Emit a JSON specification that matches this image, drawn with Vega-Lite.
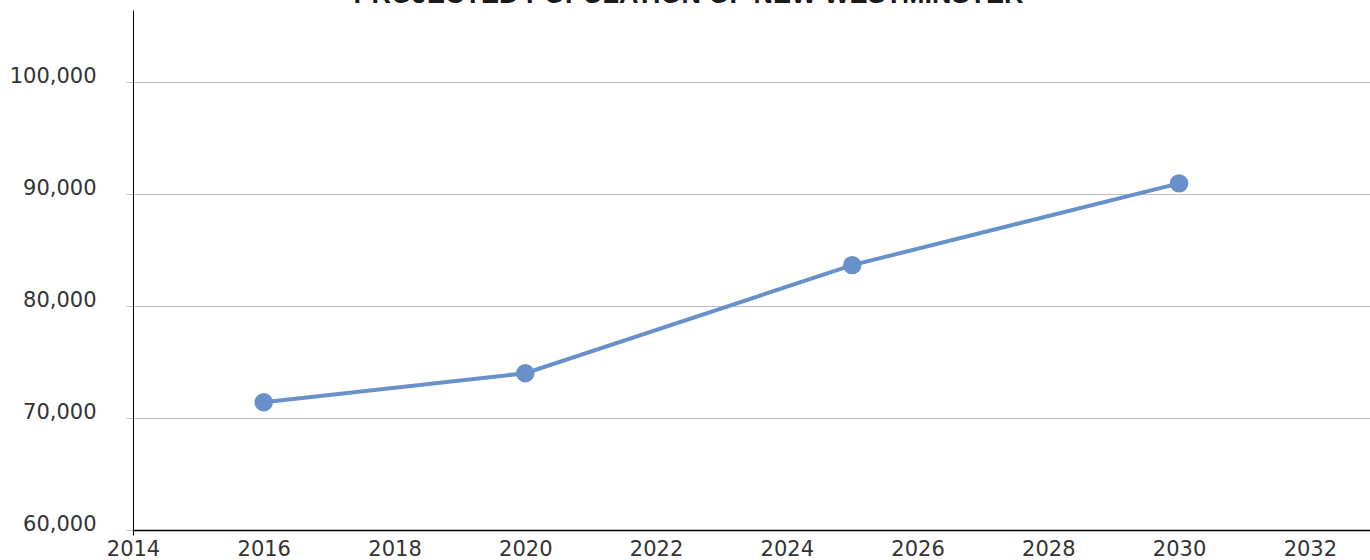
{
  "$schema": "https://vega.github.io/schema/vega-lite/v6.json",
  "autosize": {"type": "none"},
  "padding": {"left": 133, "top": 10, "right": 0, "bottom": 30},
  "width": 1237,
  "height": 520,
  "background": "white",
  "title": {
    "text": "PROJECTED POPULATION OF NEW WESTMINSTER",
    "font": "Liberation Sans",
    "fontSize": 27,
    "fontWeight": "bold",
    "color": "#1a1a1a",
    "anchor": "middle",
    "frame": "group",
    "dx": -63,
    "baseline": "alphabetic",
    "offset": -20
  },
  "config": {
    "view": {"stroke": null},
    "axis": {"labelFont": "DejaVu Sans", "labelFontSize": 21, "labelColor": "#333333"}
  },
  "data": {
    "values": [
      {"year": 2016, "population": 71400},
      {"year": 2020, "population": 74000},
      {"year": 2025, "population": 83650},
      {"year": 2030, "population": 90950}
    ]
  },
  "encoding": {
    "x": {
      "field": "year",
      "type": "quantitative",
      "scale": {"domain": [2014, 2032.92], "nice": false, "zero": false},
      "axis": {
        "title": null,
        "values": [2014, 2016, 2018, 2020, 2022, 2024, 2026, 2028, 2030, 2032],
        "format": "d",
        "grid": false,
        "domainColor": "#000000",
        "domainWidth": 1.5,
        "ticks": true,
        "tickSize": 5,
        "tickColor": {"condition": {"test": "datum.value == 2014", "value": "#000000"}, "value": "transparent"},
        "labelPadding": 20,
        "labelBaseline": "alphabetic",
        "labelFlush": false,
        "labelOverlap": false
      }
    },
    "y": {
      "field": "population",
      "type": "quantitative",
      "scale": {"domain": [60000, 106430], "nice": false, "zero": false},
      "axis": {
        "title": null,
        "values": [60000, 70000, 80000, 90000, 100000],
        "format": ",d",
        "grid": true,
        "gridColor": "#bfbfbf",
        "gridWidth": 1,
        "domainColor": "#000000",
        "domainWidth": 1,
        "tickColor": "#bfbfbf",
        "tickSize": 7,
        "labelPadding": 30,
        "labelBaseline": "alphabetic",
        "labelFlush": false,
        "labelOverlap": false
      }
    }
  },
  "layer": [
    {"mark": {"type": "line", "color": "#6891cb", "strokeWidth": 4}},
    {"mark": {"type": "point", "filled": true, "opacity": 1, "color": "#6891cb", "size": 340}}
  ]
}
